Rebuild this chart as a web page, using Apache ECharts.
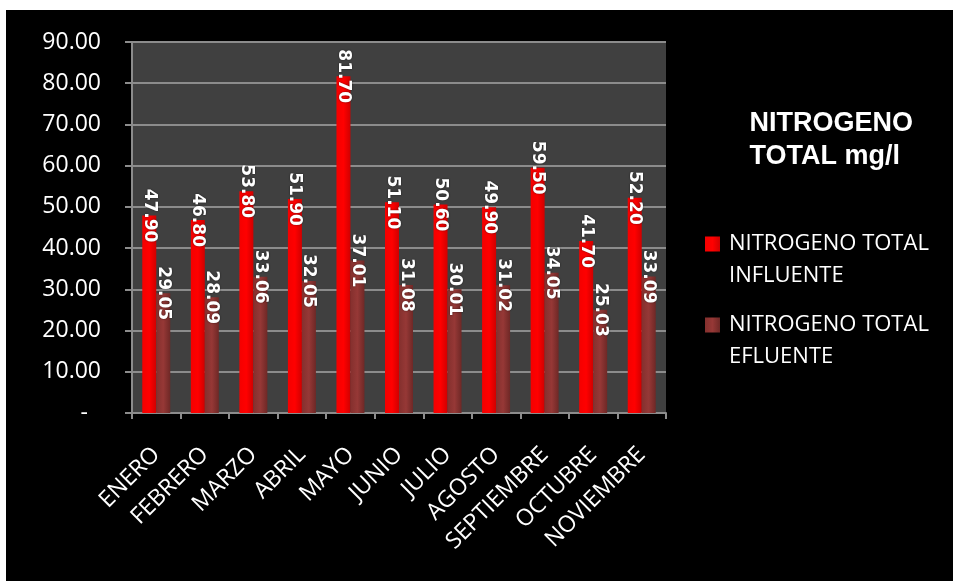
<!DOCTYPE html>
<html>
<head>
<meta charset="utf-8">
<script src="https://cdn.jsdelivr.net/npm/echarts@6/dist/echarts.min.js"></script>
<style>html,body{margin:0;padding:0;background:#fff}#c{width:953px;height:581px}</style>
</head>
<body>
<div id="c"></div>
<script>
var categories = ['ENERO','FEBRERO','MARZO','ABRIL','MAYO','JUNIO','JULIO','AGOSTO','SEPTIEMBRE','OCTUBRE','NOVIEMBRE'];
var influente = [47.90, 46.80, 53.80, 51.90, 81.70, 51.10, 50.60, 49.90, 59.50, 41.70, 52.20];
var efluente = [29.05, 28.09, 33.06, 32.05, 37.01, 31.08, 30.01, 31.02, 34.05, 25.03, 33.09];
var yTicks = [0, 10, 20, 30, 40, 50, 60, 70, 80, 90];
var seriesNames = ['NITROGENO TOTAL\nINFLUENTE', 'NITROGENO TOTAL\nEFLUENTE'];
var titleText = 'NITROGENO\nTOTAL mg/l';

var chart = echarts.init(document.getElementById('c'), null, {renderer: 'canvas'});

function grad(c1, c2, c3) {
  return new echarts.graphic.LinearGradient(0, 0, 1, 0, [
    {offset: 0, color: c1}, {offset: 0.5, color: c2}, {offset: 1, color: c3}
  ]);
}
var labelCfg = {
  show: true,
  position: 'top',
  distance: 0,
  rotate: -90,
  align: 'center',
  verticalAlign: 'middle',
  offset: [3, 0],
  overflow: 'none',
  color: '#fff',
  fontFamily: 'DejaVu Sans',
  fontWeight: 'bold',
  fontSize: 17,
  textShadowColor: 'rgba(0,0,0,0.6)',
  textShadowBlur: 2,
  formatter: function (p) { return p.value.toFixed(2); }
};
var iconPath = 'path://M0,0h15v15h-15zM0,47L15,47';

chart.setOption({
  backgroundColor: '#ffffff',
  animation: false,
  graphic: [{
    type: 'rect', z: -100, silent: true,
    shape: {x: 6, y: 10, width: 953, height: 581},
    style: {fill: '#000000'}
  }],
  title: {
    text: titleText,
    right: 35,
    top: 102,
    textStyle: {color: '#fff', fontFamily: 'Liberation Sans', fontWeight: 'bold', fontSize: 27, lineHeight: 33}
  },
  legend: {
    orient: 'vertical',
    left: 705,
    top: 228,
    padding: 0,
    itemWidth: 15,
    itemHeight: 47,
    itemGap: 17,
    data: [
      {name: seriesNames[0], icon: iconPath},
      {name: seriesNames[1], icon: iconPath}
    ],
    textStyle: {color: '#fff', fontFamily: 'Open Sans', fontSize: 22, lineHeight: 32, padding: [0, 0, 0, 4]}
  },
  grid: {
    left: 132, right: 287, top: 42, bottom: 168,
    show: true, backgroundColor: '#404040', borderWidth: 0
  },
  xAxis: {
    type: 'category',
    data: categories,
    axisLine: {lineStyle: {color: '#8c8c8c', width: 2}},
    axisTick: {show: true, length: 6, lineStyle: {color: '#8c8c8c', width: 2}},
    axisLabel: {
      color: '#fff', fontFamily: 'Open Sans', fontSize: 23, rotate: 45, margin: 38, interval: 0
    }
  },
  yAxis: {
    type: 'value',
    min: 0, max: 90, interval: 10,
    axisLine: {show: true, lineStyle: {color: '#8c8c8c', width: 2}},
    axisTick: {show: true, length: 7, lineStyle: {color: '#8c8c8c', width: 2}},
    splitLine: {lineStyle: {color: '#8c8c8c', width: 2}},
    axisLabel: {
      color: '#fff', fontFamily: 'Open Sans', fontSize: 23, margin: 31,
      formatter: function (v) { return yTicks.indexOf(v) === 0 ? '{d|-}' : v.toFixed(2); },
      rich: {d: {color: '#fff', fontFamily: 'Open Sans', fontSize: 23, padding: [0, 13, 0, 0]}}
    }
  },
  series: [{
    name: seriesNames[0],
    type: 'bar',
    data: influente,
    barWidth: 14,
    barGap: '0%',
    itemStyle: {color: grad('#f40000', '#ff0000', '#d00000')},
    label: labelCfg,
    labelLayout: {hideOverlap: false}
  }, {
    name: seriesNames[1],
    type: 'bar',
    data: efluente,
    barWidth: 14,
    barGap: '0%',
    itemStyle: {color: grad('#84302e', '#963836', '#6e2826')},
    label: labelCfg,
    labelLayout: {hideOverlap: false}
  }]
});
</script>
</body>
</html>
